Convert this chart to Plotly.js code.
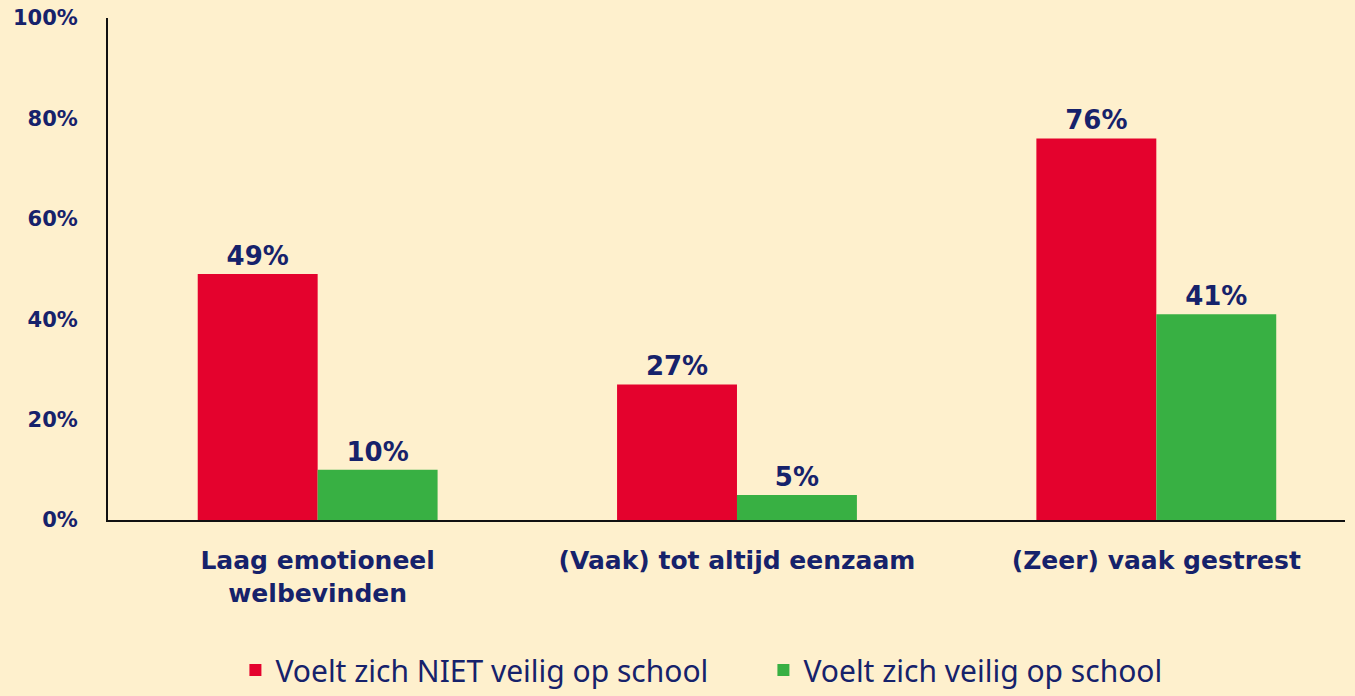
<!DOCTYPE html>
<html><head><meta charset="utf-8">
<script src="https://cdn.plot.ly/plotly-3.0.1.min.js"></script>
<style>html,body{margin:0;padding:0;background:#FEF0CD;}#chart{width:1355px;height:696px;}</style>
</head><body><div id="chart"></div>
<script>
const categories = ["Laag emotioneel<br>welbevinden", "(Vaak) tot altijd eenzaam", "(Zeer) vaak gestrest"];
const seriesNames = ["Voelt zich NIET veilig op school", "Voelt zich veilig op school"];
const notSafe = [49, 27, 76];
const safe = [10, 5, 41];
const yTicks = [0, 20, 40, 60, 80, 100];
const yTickLabels = ["0%", "20%", "40%", "60%", "80%", "100%"];

const navy = '#16226B';
const bold = 'DejaVu Sans';
const traces = [
  {type:'bar', name:seriesNames[0], x:categories, y:notSafe, marker:{color:'#E4022D'},
   text: notSafe.map(v=>v+'%'), textposition:'outside', cliponaxis:false,
   textfont:{family:bold, size:26, color:navy, weight:'bold'}},
  {type:'bar', name:seriesNames[1], x:categories, y:safe, marker:{color:'#38B043'},
   text: safe.map(v=>v+'%'), textposition:'outside', cliponaxis:false,
   textfont:{family:bold, size:26, color:navy, weight:'bold'}}
];
const layout = {
  width:1355, height:696,
  paper_bgcolor:'#FEF0CD', plot_bgcolor:'#FEF0CD',
  margin:{l:108, r:10, t:18, b:176},
  barmode:'group', bargap:0.428, bargroupgap:0,
  showlegend:true,
  legend:{orientation:'h', x:0.103, xanchor:'left', yref:'container', y:-0.01, yanchor:'bottom',
    font:{family:'Noto Sans', size:30, color:navy}, entrywidth:483, entrywidthmode:'pixels',
    bgcolor:'rgba(0,0,0,0)'},
  xaxis:{type:'category', range:[-0.5, 2.45], showline:true, linecolor:'#111', linewidth:2,
    ticks:'', showgrid:false, zeroline:false, fixedrange:true, automargin:false,
    tickfont:{family:bold, size:25, color:navy, weight:'bold'}, ticklabelstandoff:17},
  yaxis:{range:[0,100], tickvals:yTicks, ticktext:yTickLabels, showline:true, linecolor:'#111', linewidth:2,
    showgrid:false, zeroline:false, ticks:'', ticklabelstandoff:24, automargin:false,
    tickfont:{family:bold, size:21, color:navy, weight:'bold'}}
};
Plotly.newPlot('chart', traces, layout, {displayModeBar:false, staticPlot:true});
</script></body></html>
